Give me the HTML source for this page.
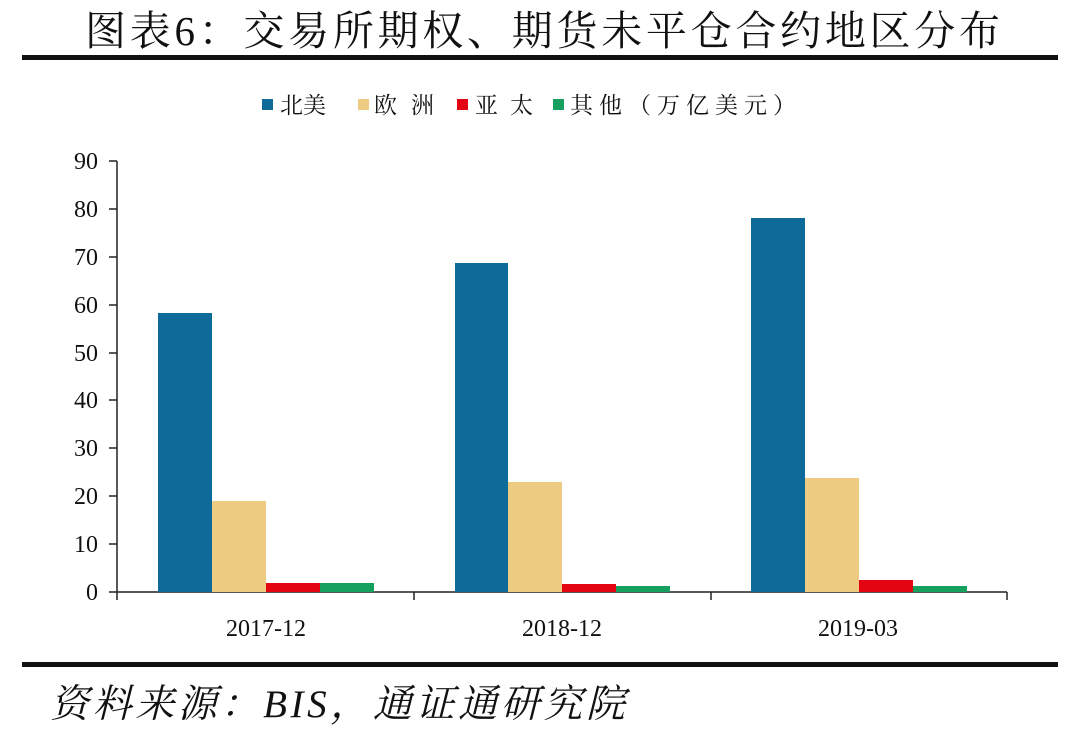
<!DOCTYPE html>
<html><head><meta charset="utf-8"><style>
body{margin:0;background:#fff;width:1080px;height:738px;overflow:hidden}
svg{display:block}
</style></head><body>
<svg width="1080" height="738" xmlns="http://www.w3.org/2000/svg">
<rect width="1080" height="738" fill="#fff"/>
<text x="85" y="45" textLength="915" lengthAdjust="spacing" font-family="Liberation Serif, Noto Serif CJK SC, serif" font-size="41" fill="#111">图表6：交易所期权、期货未平仓合约地区分布</text>
<rect x="22" y="55" width="1036" height="5" fill="#111"/>
<g font-family="Liberation Serif, Noto Serif CJK SC, serif" font-size="23" fill="#111">
<rect x="262" y="99" width="11" height="11" fill="#0E6A98"/><text x="280" y="113" textLength="46" lengthAdjust="spacing">北美</text>
<rect x="358" y="99" width="11" height="11" fill="#EDCB80"/><text x="374" y="113" textLength="60" lengthAdjust="spacing">欧洲</text>
<rect x="457" y="99" width="11" height="11" fill="#E30612"/><text x="475" y="113" textLength="58" lengthAdjust="spacing">亚太</text>
<rect x="553" y="99" width="11" height="11" fill="#16A060"/><text x="570" y="113" textLength="226" lengthAdjust="spacing">其他（万亿美元）</text>
</g>
<g font-family="Liberation Serif, serif" font-size="24" fill="#111" text-anchor="end">
<text x="98" y="600">0</text><text x="98" y="552">10</text><text x="98" y="504">20</text><text x="98" y="456">30</text><text x="98" y="408">40</text><text x="98" y="361">50</text><text x="98" y="313">60</text><text x="98" y="265">70</text><text x="98" y="217">80</text><text x="98" y="169">90</text>
</g>
<g stroke="#222" stroke-width="1.5">
<line x1="117" y1="161" x2="117" y2="600"/>
<line x1="109" y1="592" x2="1007" y2="592"/>
<line x1="109" y1="161" x2="117" y2="161"/><line x1="109" y1="209" x2="117" y2="209"/><line x1="109" y1="257" x2="117" y2="257"/><line x1="109" y1="305" x2="117" y2="305"/><line x1="109" y1="353" x2="117" y2="353"/><line x1="109" y1="400" x2="117" y2="400"/><line x1="109" y1="448" x2="117" y2="448"/><line x1="109" y1="496" x2="117" y2="496"/><line x1="109" y1="544" x2="117" y2="544"/>
<line x1="414" y1="592" x2="414" y2="600"/><line x1="711" y1="592" x2="711" y2="600"/><line x1="1007" y1="592" x2="1007" y2="600"/>
</g>
<g>
<rect x="158" y="313" width="54" height="279" fill="#0E6A98"/>
<rect x="212" y="501" width="54" height="91" fill="#EDCB80"/>
<rect x="266" y="583" width="54" height="9" fill="#E30612"/>
<rect x="320" y="583" width="54" height="9" fill="#16A060"/>
<rect x="455" y="263" width="53" height="329" fill="#0E6A98"/>
<rect x="508" y="482" width="54" height="110" fill="#EDCB80"/>
<rect x="562" y="584" width="54" height="8" fill="#E30612"/>
<rect x="616" y="586" width="54" height="6" fill="#16A060"/>
<rect x="751" y="218" width="54" height="374" fill="#0E6A98"/>
<rect x="805" y="478" width="54" height="114" fill="#EDCB80"/>
<rect x="859" y="580" width="54" height="12" fill="#E30612"/>
<rect x="913" y="586" width="54" height="6" fill="#16A060"/>
</g>
<g font-family="Liberation Serif, serif" font-size="24" fill="#111" text-anchor="middle">
<text x="266" y="636">2017-12</text><text x="562" y="636">2018-12</text><text x="858" y="636">2019-03</text>
</g>
<rect x="22" y="662" width="1036" height="5" fill="#111"/>
<text x="50" y="717" textLength="575" lengthAdjust="spacing" font-family="Liberation Serif, Noto Serif CJK SC, serif" font-size="39" font-style="italic" fill="#111">资料来源：BIS，通证通研究院</text>
</svg>
</body></html>
